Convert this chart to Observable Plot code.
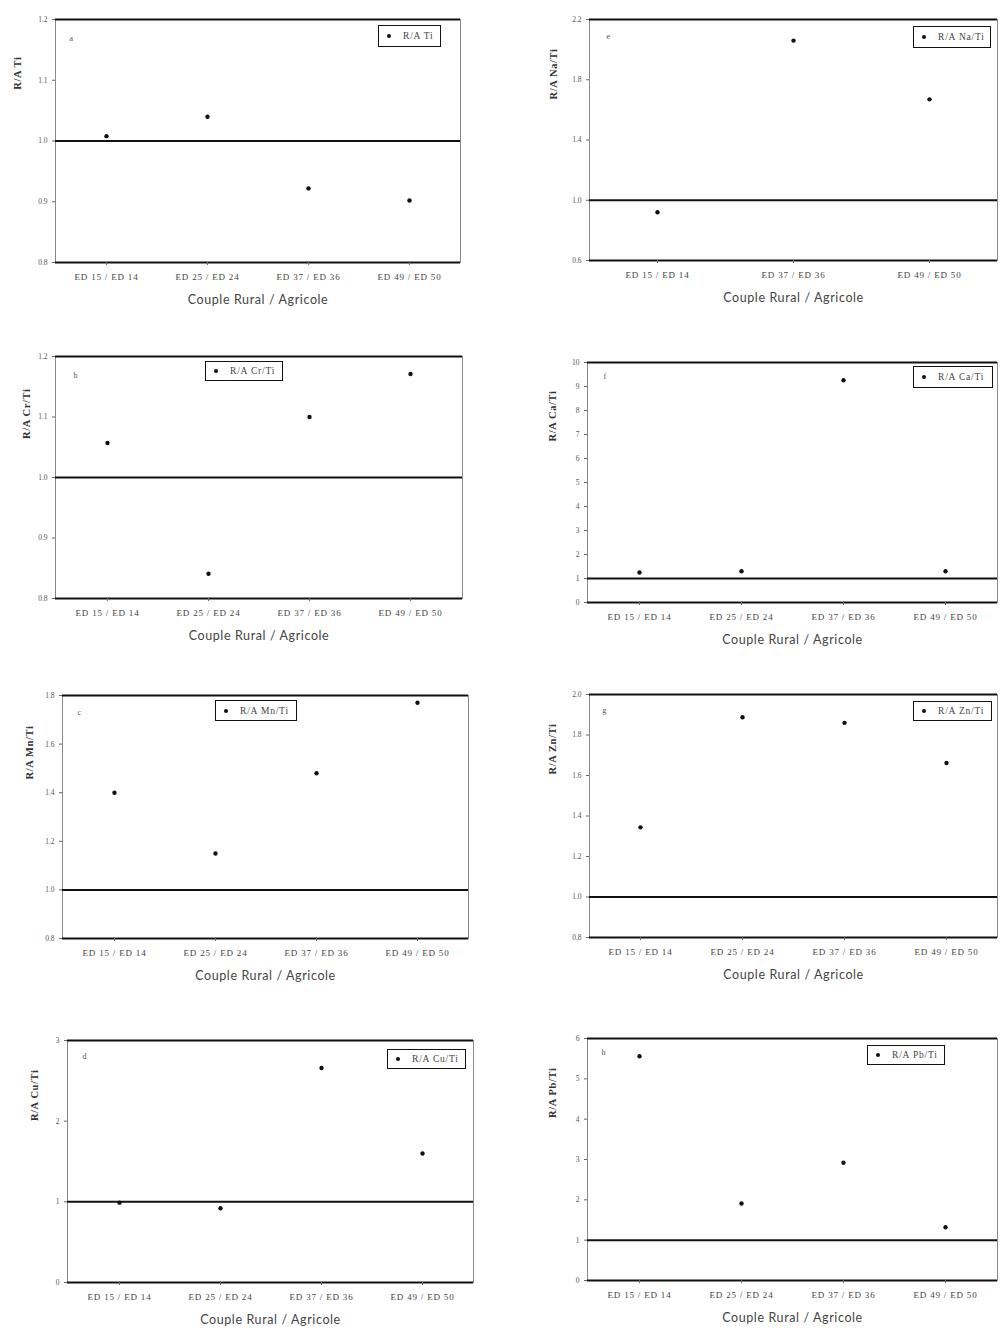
<!DOCTYPE html>
<html><head><meta charset="utf-8">
<script src="https://cdn.jsdelivr.net/npm/d3@7"></script>
<script src="https://cdn.jsdelivr.net/npm/@observablehq/plot@0.6"></script>
<style>
body{margin:0;background:#fff;overflow:hidden}
#root{position:relative;width:1000px;height:1342px;background:#fff}
.panel{position:absolute}
.panel svg{background:transparent}
.panel g[aria-label="x-axis tick label"] text{letter-spacing:0.8px}
.panel g[aria-label="text"] text{letter-spacing:0.6px}
.legend{position:absolute;border:1.5px solid #111;box-sizing:border-box;font:9.5px "Liberation Serif",serif;letter-spacing:0.8px;color:#444;display:flex;align-items:center;background:#fff;white-space:nowrap}
.legend .dot{width:4px;height:4px;border-radius:50%;background:#111;margin-left:8px;margin-right:12px;flex:none}
</style></head><body><div id="root"></div>
<script>
// ---- data ----
const categories4 = ["ED 15 / ED 14", "ED 25 / ED 24", "ED 37 / ED 36", "ED 49 / ED 50"];
const categoriesNa = ["ED 15 / ED 14", "ED 37 / ED 36", "ED 49 / ED 50"];
const tiValues = [1.008, 1.04, 0.922, 0.902];
const naValues = [0.92, 2.06, 1.67];
const crValues = [1.057, 0.841, 1.10, 1.171];
const caValues = [1.25, 1.30, 9.26, 1.30];
const mnValues = [1.40, 1.15, 1.48, 1.77];
const znValues = [1.344, 1.888, 1.86, 1.662];
const cuValues = [0.99, 0.92, 2.66, 1.60];
const pbValues = [5.56, 1.91, 2.92, 1.32];
const tiTicks = [0.8, 0.9, 1.0, 1.1, 1.2];
const naTicks = [0.6, 1.0, 1.4, 1.8, 2.2];
const crTicks = [0.8, 0.9, 1.0, 1.1, 1.2];
const caTicks = [0, 1, 2, 3, 4, 5, 6, 7, 8, 9, 10];
const mnTicks = [0.8, 1.0, 1.2, 1.4, 1.6, 1.8];
const znTicks = [0.8, 1.0, 1.2, 1.4, 1.6, 1.8, 2.0];
const cuTicks = [0, 1, 2, 3];
const pbTicks = [0, 1, 2, 3, 4, 5, 6];
const yLabels = ["R/A Ti", "R/A Na/Ti", "R/A Cr/Ti", "R/A Ca/Ti", "R/A Mn/Ti", "R/A Zn/Ti", "R/A Cu/Ti", "R/A Pb/Ti"];
const letters = ["a", "e", "b", "f", "c", "g", "d", "h"];
const xTitle = "Couple Rural / Agricole";
const referenceValue = [1];

// ---- layout ----
const panels = [
  {col:0, rowY:0,    h:335, mL:55, mR:40, mT:19, mB:73, cats:categories4, values:tiValues, ticks:tiTicks, fmt:".1f", ldx:-42, ldy:37, tdx:14, tdy:16, legend:[378,25,63,22]},
  {col:1, rowY:0,    h:335, mL:89, mR:3,  mT:19, mB:75, cats:categoriesNa, values:naValues, ticks:naTicks, fmt:".1f", ldx:-40, ldy:29, tdx:17, tdy:14, legend:[913,26,78,22]},
  {col:0, rowY:337,  h:335, mL:55, mR:38, mT:19, mB:74, cats:categories4, values:crValues, ticks:crTicks, fmt:".1f", ldx:-33, ldy:32, tdx:18, tdy:16, legend:[205,361,78,20]},
  {col:1, rowY:337,  h:335, mL:87, mR:3,  mT:25, mB:70, cats:categories4, values:caValues, ticks:caTicks, fmt:"d",   ldx:-39, ldy:28, tdx:16, tdy:11, legend:[913,366,80,22]},
  {col:0, rowY:676,  h:335, mL:62, mR:32, mT:19, mB:73, cats:categories4, values:mnValues, ticks:mnTicks, fmt:".1f", ldx:-37, ldy:30, tdx:15, tdy:14, legend:[215,700,82,21]},
  {col:1, rowY:676,  h:335, mL:89, mR:3,  mT:18, mB:74, cats:categories4, values:znValues, ticks:znTicks, fmt:".1f", ldx:-41, ldy:29, tdx:13, tdy:13, legend:[913,701,79,20]},
  {col:0, rowY:1020, h:322, mL:67, mR:27, mT:20, mB:60, cats:categories4, values:cuValues, ticks:cuTicks, fmt:"d",   ldx:-37, ldy:29, tdx:15, tdy:13, legend:[387,1049,79,20]},
  {col:1, rowY:1020, h:322, mL:87, mR:3,  mT:18, mB:62, cats:categories4, values:pbValues, ticks:pbTicks, fmt:"d",   ldx:-39, ldy:29, tdx:14, tdy:11, legend:[867,1045,78,20]}
];

const root = document.getElementById("root");
panels.forEach((p, i) => {
  const data = p.cats.map((c, j) => ({c, v: p.values[j]}));
  const domain = [p.ticks[0], p.ticks[p.ticks.length - 1]];
  const plot = Plot.plot({
    width: 500, height: p.h,
    marginLeft: p.mL, marginRight: p.mR, marginTop: p.mT, marginBottom: p.mB,
    style: {fontFamily: "'Liberation Serif', serif", fontSize: "8px", color: "#555", background: "transparent"},
    x: {type: "point", domain: p.cats, padding: 0.5, label: null},
    y: {domain, nice: false, label: null},
    marks: [
      Plot.frame({stroke: "#8a8a8a", strokeWidth: 1}),
      Plot.ruleY(domain, {stroke: "#111", strokeWidth: 2}),
      Plot.ruleY(referenceValue, {stroke: "#111", strokeWidth: 2}),
      Plot.axisY(p.ticks, {tickFormat: d3.format(p.fmt), tickSize: 3, tickPadding: 5, label: null, fontSize: 7.5, stroke: "#666", fill: "#555"}),
      Plot.axisX({tickSize: 3, tickPadding: 8, label: null, fontSize: 9, stroke: "#666", fill: "#444"}),
      Plot.dot(data, {x: "c", y: "v", r: 2.2, fill: "#111"}),
      Plot.text([yLabels[i]], {frameAnchor: "top-left", rotate: -90, textAnchor: "end", dx: p.ldx, dy: p.ldy, fontSize: 10.5, fontWeight: "bold", fill: "#333"}),
      Plot.text([letters[i]], {frameAnchor: "top-left", dx: p.tdx, dy: p.tdy, fontSize: 8, fill: "#555"}),
      Plot.text([xTitle], {frameAnchor: "bottom", dy: 41, fontSize: 12.5, fill: "#444", fontFamily: "Lato, sans-serif"})
    ]
  });
  const wrap = document.createElement("div");
  wrap.className = "panel";
  wrap.style.left = (p.col * 500) + "px";
  wrap.style.top = p.rowY + "px";
  wrap.appendChild(plot);
  root.appendChild(wrap);

  const [lx, ly, lw, lh] = p.legend;
  const lg = document.createElement("div");
  lg.className = "legend";
  lg.style.left = lx + "px"; lg.style.top = ly + "px";
  lg.style.width = lw + "px"; lg.style.height = lh + "px";
  const dot = document.createElement("span"); dot.className = "dot";
  const txt = document.createElement("span"); txt.textContent = yLabels[i];
  lg.appendChild(dot); lg.appendChild(txt);
  root.appendChild(lg);
});
</script>
</body></html>
